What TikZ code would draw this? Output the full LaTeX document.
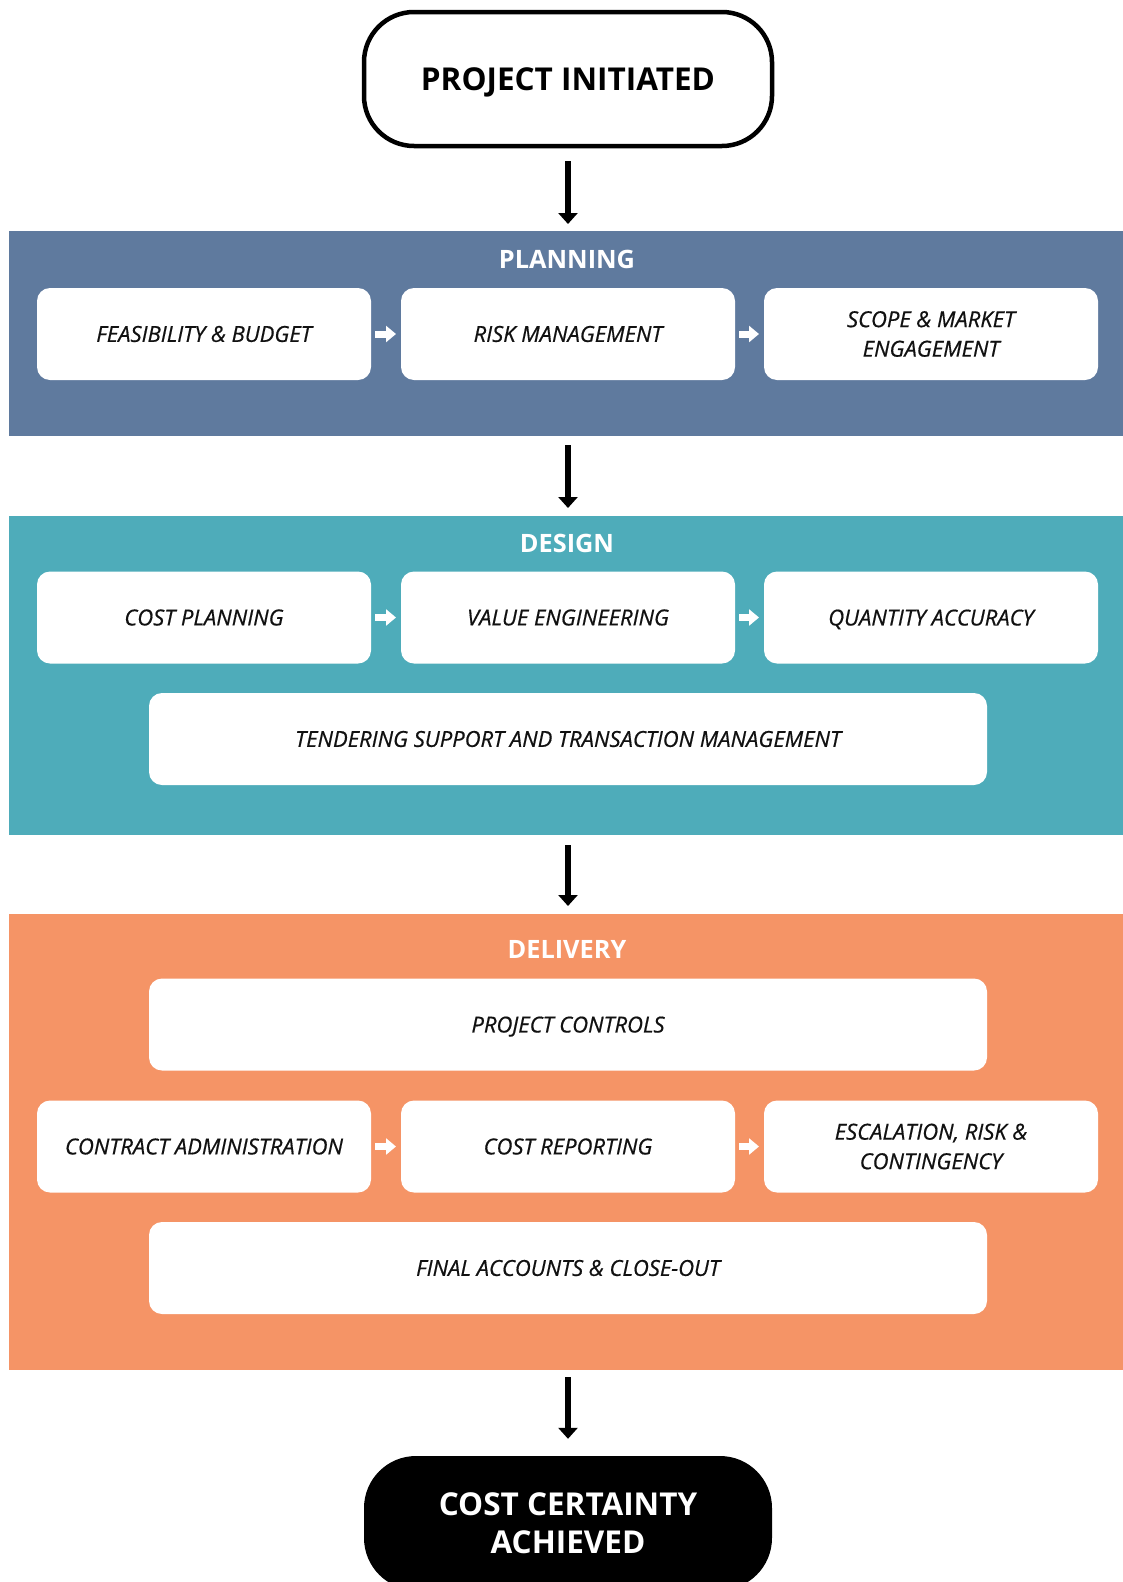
\documentclass[tikz,border=0pt]{standalone}
\usepackage{fontspec}
\setmainfont{Open Sans}
\newfontfamily\boxfam{Open Sans}[FakeBold=0.6]
\usetikzlibrary{arrows.meta}
\definecolor{planc}{HTML}{5F7A9E}
\definecolor{desc}{HTML}{4EACBA}
\definecolor{delc}{HTML}{F59466}
\definecolor{ink}{HTML}{111111}
\begin{document}
\begin{tikzpicture}[x=1pt,y=-1pt,
  band/.style={draw=none, inner sep=0pt, outer sep=0pt, anchor=north west},
  stepbox/.style={fill=white, rounded corners=13pt, minimum height=92pt, inner sep=0pt, outer sep=0pt, align=center, text=ink, font=\boxfam\fontsize{22}{29.5}\selectfont\itshape},
  rowbox/.style={stepbox, minimum width=334pt},
  widebox/.style={stepbox, minimum width=838pt},
  head/.style={text=white, inner sep=0pt, font=\fontsize{25.3}{30}\selectfont\bfseries},
  bigarrow/.style={black, line width=6pt, -{Triangle[width=19pt,length=11pt]}},
  smallarrow/.style={white, line width=7pt, -{Triangle[width=16pt,length=10pt]}, shorten <=4pt, shorten >=5pt},
  endbox/.style={minimum width=408pt, minimum height=134pt, inner sep=0pt, align=center, font=\fontsize{31.5}{38}\selectfont\bfseries}
]
\useasboundingbox (0,0) rectangle (1123,1582);
\begin{scope}
\clip (0,0) rectangle (1123,1582);
\fill[white] (0,0) rectangle (1123,1582);

% start
\node[endbox, draw=black, line width=4.5pt, rounded corners=50pt, text=black, text depth=0pt] (start) at (568,79) {PROJECT INITIATED};

% planning
\node[band, fill=planc, minimum width=1114pt, minimum height=205pt] (plan) at (9,231) {};
\node[head] (planlbl) at (567,259) {PLANNING};
\node[rowbox] (fb) at (204,334) {FEASIBILITY \& BUDGET};
\node[rowbox] (rm) at (568,334) {RISK MANAGEMENT};
\node[rowbox] (sm) at (931,334) {SCOPE \& MARKET\\ENGAGEMENT};
\draw[smallarrow] (fb) -- (rm);
\draw[smallarrow] (rm) -- (sm);

% design
\node[band, fill=desc, minimum width=1114pt, minimum height=319pt] (des) at (9,516) {};
\node[head] (deslbl) at (567,543) {DESIGN};
\node[rowbox] (cp) at (204,617.5) {COST PLANNING};
\node[rowbox] (ve) at (568,617.5) {VALUE ENGINEERING};
\node[rowbox, text depth=0pt] (qa) at (931,617.5) {QUANTITY ACCURACY};
\node[widebox] (ts) at (568,739) {TENDERING SUPPORT AND TRANSACTION MANAGEMENT};
\draw[smallarrow] (cp) -- (ve);
\draw[smallarrow] (ve) -- (qa);

% delivery
\node[band, fill=delc, minimum width=1114pt, minimum height=456pt] (del) at (9,914) {};
\node[head] (dellbl) at (567,949) {DELIVERY};
\node[widebox, text depth=0pt] (pc) at (568,1024.5) {PROJECT CONTROLS};
\node[rowbox] (ca) at (204,1146.5) {CONTRACT ADMINISTRATION};
\node[rowbox] (cr) at (568,1146.5) {COST REPORTING};
\node[rowbox] (er) at (931,1146.5) {ESCALATION, RISK \&\\CONTINGENCY};
\node[widebox] (fa) at (568,1268) {FINAL ACCOUNTS \& CLOSE-OUT};
\draw[smallarrow] (ca) -- (cr);
\draw[smallarrow] (cr) -- (er);

% finish
\node[endbox, fill=black, rounded corners=52pt, text=white] (finish) at (568,1523) {COST CERTAINTY\\ACHIEVED};

% main arrows
\draw[bigarrow, shorten <=13pt, shorten >=7pt] (start.south) -- (start.south |- plan.north);
\draw[bigarrow, shorten <=9pt, shorten >=8pt] (plan.south -| start) -- (des.north -| start);
\draw[bigarrow, shorten <=10pt, shorten >=8pt] (des.south -| start) -- (del.north -| start);
\draw[bigarrow, shorten <=7pt, shorten >=17pt] (del.south -| start) -- (finish.north);
\end{scope}
\end{tikzpicture}
\end{document}
